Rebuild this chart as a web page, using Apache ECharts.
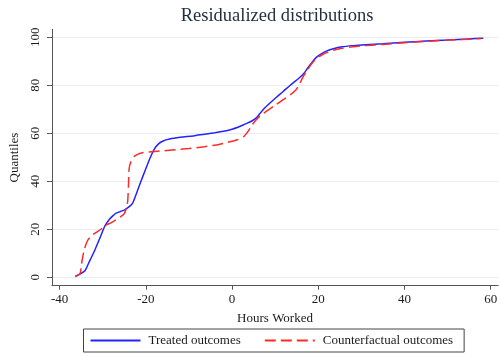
<!DOCTYPE html>
<html>
<head>
<meta charset="utf-8">
<script src="https://cdn.jsdelivr.net/npm/echarts@6/dist/echarts.min.js"></script>
<style>
  html, body { margin: 0; padding: 0; background: #fff; }
  #chart { width: 500px; height: 356px; }
</style>
</head>
<body>
<div id="chart"></div>
<script>
// Hours worked (x) at each quantile (y) for the two residualized distributions
const treatedHours = [-36.4, -35.5, -34.2, -33.2, -31.8, -30.4, -29.9, -29.3, -28.4, -27.6, -26.9, -25.8, -25.0, -24.0, -23.1, -22.2, -21.2, -20.1, -19.0, -18.0, -17.0, -16.0, -14.5, -12.0, -9.0, -6.4, -4.0, -2.0, 0.0, 1.5, 3.0, 4.5, 5.7, 6.5, 7.5, 8.8, 10.3, 11.8, 13.5, 15.5, 16.7, 17.6, 18.6, 19.6, 20.8, 22.0, 23.5, 25.5, 28.0, 31.0, 35.0, 40.0, 45.0, 50.0, 55.0, 58.3];
const treatedQuantiles = [0.4, 1.2, 2.6, 6.2, 11.5, 17.5, 19.8, 22.0, 24.3, 25.7, 26.7, 27.5, 28.0, 29.2, 30.8, 34.8, 39.7, 44.8, 49.8, 53.5, 55.7, 56.8, 57.6, 58.3, 58.9, 59.6, 60.2, 60.8, 61.7, 62.6, 63.8, 65.0, 66.5, 68.3, 70.4, 72.6, 75.0, 77.3, 80.0, 82.9, 85.0, 87.3, 89.6, 91.7, 93.2, 94.3, 95.2, 96.0, 96.5, 96.9, 97.3, 97.9, 98.4, 98.8, 99.3, 99.6];

const counterHours = [-36.4, -35.6, -35.2, -35.0, -34.7, -34.2, -33.6, -32.8, -31.8, -30.5, -29.5, -28.0, -26.9, -25.8, -25.0, -24.5, -24.2, -24.0, -23.9, -23.5, -22.7, -21.8, -20.8, -18.0, -14.0, -10.0, -6.4, -3.0, -1.0, 1.1, 2.7, 3.6, 4.4, 5.3, 6.5, 8.0, 9.8, 11.8, 13.5, 14.8, 15.6, 16.3, 17.5, 18.6, 19.6, 20.8, 22.0, 23.5, 25.5, 27.5, 31.0, 35.0, 40.0, 45.0, 50.0, 55.0, 57.8];
const counterQuantiles = [0.3, 1.0, 1.8, 4.5, 8.0, 12.0, 15.0, 17.0, 18.4, 19.9, 21.5, 22.8, 24.0, 25.3, 26.5, 29.0, 32.0, 40.0, 45.0, 48.0, 50.3, 51.3, 51.9, 52.4, 53.0, 53.6, 54.4, 55.3, 56.2, 57.2, 58.6, 60.5, 62.7, 65.0, 67.2, 69.2, 71.4, 73.9, 76.0, 78.0, 80.3, 82.9, 86.4, 89.2, 91.2, 92.6, 93.6, 94.6, 95.4, 95.9, 96.5, 97.0, 97.7, 98.3, 98.8, 99.2, 99.5];

const xTicks = [-40, -20, 0, 20, 40, 60];
const yTicks = [0, 20, 40, 60, 80, 100];

const seriesNames = ['Treated outcomes', 'Counterfactual outcomes'];

const pair = (xs, ys) => xs.map((x, i) => [x, ys[i]]);

const FONT = '"Liberation Serif", "Times New Roman", serif';
const AXIS_COLOR = '#555';
const TEXT_COLOR = '#1a1a1a';

const chart = echarts.init(document.getElementById('chart'), null, { renderer: 'canvas' });

chart.setOption({
  animation: false,
  backgroundColor: '#fff',
  textStyle: { fontFamily: FONT },
  title: {
    text: 'Residualized distributions',
    left: 272, top: 2,
    textAlign: 'center',
    textStyle: { fontFamily: FONT, fontSize: 18.5, fontWeight: 'normal', color: '#1f2d3d' }
  },
  grid: { left: 44, right: 0, top: 29.3, bottom: 70.3, containLabel: false },
  xAxis: {
    type: 'value',
    min: -41.8, max: 61.75,
    name: 'Hours Worked',
    nameLocation: 'middle',
    nameGap: 26,
    nameTextStyle: { fontFamily: FONT, fontSize: 13, color: TEXT_COLOR },
    axisLine: { show: true, onZero: false, lineStyle: { color: AXIS_COLOR, width: 1 } },
    axisTick: { show: true, length: 4, lineStyle: { color: AXIS_COLOR }, customValues: xTicks },
    axisLabel: { customValues: xTicks, fontFamily: FONT, fontSize: 13, color: TEXT_COLOR, margin: 7 },
    splitLine: { show: false }
  },
  yAxis: {
    type: 'value',
    min: -3.5, max: 103.3,
    name: 'Quantiles',
    nameLocation: 'middle',
    nameGap: 29,
    nameRotate: 90,
    nameTextStyle: { fontFamily: FONT, fontSize: 13, color: TEXT_COLOR },
    axisLine: { show: true, onZero: false, lineStyle: { color: AXIS_COLOR, width: 1 } },
    axisTick: { show: true, length: 5, lineStyle: { color: AXIS_COLOR }, customValues: yTicks },
    axisLabel: { customValues: yTicks, rotate: 90, fontFamily: FONT, fontSize: 13, color: TEXT_COLOR, margin: 10 },
    splitLine: { show: true, lineStyle: { color: '#e6eef0', width: 1 } }
  },
  legend: {
    show: true,
    data: seriesNames,
    left: 83.5, top: 329,
    orient: 'horizontal',
    borderColor: '#444', borderWidth: 1,
    padding: [5, 11, 5, 6],
    itemWidth: 50, itemHeight: 14,
    itemGap: 23,
    itemStyle: { opacity: 0 },
    textStyle: { fontFamily: FONT, fontSize: 13, color: TEXT_COLOR, padding: [0, 0, 0, 3] }
  },
  series: [
    {
      name: seriesNames[0],
      type: 'line',
      data: pair(treatedHours, treatedQuantiles),
      showSymbol: false, symbol: 'none',
      smooth: 0.25,
      lineStyle: { color: '#2323ff', width: 1.5 },
      itemStyle: { color: '#2323ff' },
      z: 3
    },
    {
      name: seriesNames[1],
      type: 'line',
      data: pair(counterHours, counterQuantiles),
      showSymbol: false, symbol: 'none',
      smooth: 0.25,
      lineStyle: { color: '#ff2a2a', width: 1.5, type: [11, 5] },
      itemStyle: { color: '#ff2a2a' },
      z: 4
    }
  ]
});
</script>
</body>
</html>
